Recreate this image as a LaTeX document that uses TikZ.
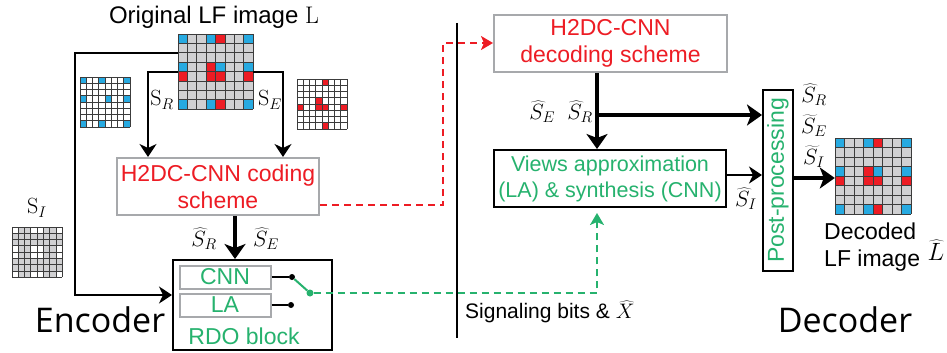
\RequirePackage{fix-cm}
\documentclass[tikz,border=0pt]{standalone}
\usepackage[no-math]{fontspec}
\setmainfont{Liberation Sans}
\newfontfamily\encfont{Open Sans}
\usetikzlibrary{arrows.meta,calc}
\definecolor{lfred}{RGB}{237,28,36}
\definecolor{lfblue}{RGB}{39,170,225}
\definecolor{lfgreen}{RGB}{38,178,110}
\definecolor{lfgray}{RGB}{208,208,210}
\definecolor{boxgray}{RGB}{167,169,172}
\definecolor{gridcol}{RGB}{60,60,60}
\newcommand\lfgrid[6]{%
  \begin{scope}[shift={(#1,#2)}]
    \fill[#4] (0,0) rectangle (8*#3,8*#3);
    \foreach \gr/\gc in {0/0,0/3,0/7,3/0,3/4,3/7,7/0,7/3,7/7}
      \fill[#5] (\gc*#3,\gr*#3) rectangle ++(#3,#3);
    \foreach \gr/\gc in {0/4,3/3,4/0,4/3,4/4,4/7,7/4}
      \fill[#6] (\gc*#3,\gr*#3) rectangle ++(#3,#3);
    \foreach \gi in {0,...,8}{
      \draw[gridcol,line width=0.9pt] (\gi*#3,0) -- (\gi*#3,8*#3);
      \draw[gridcol,line width=0.9pt] (0,\gi*#3) -- (8*#3,\gi*#3);}
  \end{scope}}
\begin{document}
\begin{tikzpicture}[x=1pt,y=-1pt,
  txt/.style={font=\fontsize{23}{27}\selectfont, inner sep=0pt, align=center},
  mth/.style={font=\fontsize{22}{26}\selectfont, inner sep=0pt},
  gbox/.style={draw=boxgray, line width=2pt, fill=white, inner sep=0pt, align=center},
  bbox/.style={draw=black, line width=2pt, fill=white, inner sep=0pt, align=center},
  anchorbox/.style={inner sep=0pt, draw=none},
  conn/.style={line width=2pt, -{Stealth[length=13pt,width=17pt,inset=4pt]}},
  medconn/.style={line width=2.5pt, -{Stealth[length=13pt,width=17pt,inset=4pt]}},
  thickconn/.style={line width=4.5pt, -{Stealth[length=15pt,width=21pt,inset=4pt]}},
  reddash/.style={lfred, line width=2pt, dash pattern=on 7pt off 5pt, -{Stealth[length=12pt,width=14pt,inset=3pt]}},
  greendash/.style={lfgreen, line width=2pt, dash pattern=on 7pt off 5pt, -{Stealth[length=12pt,width=14pt,inset=3pt]}},
  dot/.style={circle, fill=black, inner sep=0pt, minimum size=6pt},
  gdot/.style={circle, fill=lfgreen, inner sep=0pt, minimum size=7pt}]
\useasboundingbox (0,0) rectangle (947,353);

% grids
\lfgrid{178}{34}{9.4}{lfgray}{lfblue}{lfred}
\node[anchorbox, minimum width=75pt, minimum height=75pt] (L) at (215.6,71.6) {};
\lfgrid{80}{77}{6.25}{white}{lfblue}{white}
\node[anchorbox, minimum width=50pt, minimum height=50pt] (SR) at (105,102) {};
\lfgrid{297}{79}{6.25}{white}{white}{lfred}
\node[anchorbox, minimum width=50pt, minimum height=50pt] (SE) at (322,104) {};
\lfgrid{12}{227}{6.3}{lfgray}{white}{white}
\node[anchorbox, minimum width=50pt, minimum height=50pt] (SI) at (37,252) {};
\lfgrid{835}{138}{9.5}{lfgray}{lfblue}{lfred}
\node[anchorbox, minimum width=76pt, minimum height=76pt] (D) at (873,176) {};

% title
\node[txt, font=\fontsize{24}{28}\selectfont] (title) at (214,17) {Original LF image $\mathrm{L}$};

% labels near original
\node[mth] (lsr) at (162,100) {$\mathrm{S}_R$};
\node[mth] (lse) at (270,100) {$\mathrm{S}_E$};
\node[mth] (lsi) at (37,208) {$\mathrm{S}_I$};

% boxes
\node[gbox, minimum width=202pt, minimum height=57pt, text=lfred, font=\fontsize{23}{27}\selectfont] (coding) at (218,186.5) {H2DC-CNN coding\\scheme};
\node[bbox, minimum width=159pt, minimum height=90pt] (rdo) at (252.5,305) {};
\node[gbox, minimum width=91pt, minimum height=23pt, text=lfgreen, font=\fontsize{23}{27}\selectfont] (cnn) at (225,277) {CNN};
\node[gbox, minimum width=91pt, minimum height=23pt, text=lfgreen, font=\fontsize{23}{27}\selectfont] (la) at (225,305) {LA};
\node[txt, text=lfgreen] (rdotxt) at (244,336) {RDO block};
\node[gbox, minimum width=233pt, minimum height=57pt, text=lfred, font=\fontsize{23}{27}\selectfont] (decoding) at (610.5,43.5) {H2DC-CNN\\decoding scheme};
\node[bbox, minimum width=232pt, minimum height=57pt, text=lfgreen, font=\fontsize{21.5}{26}\selectfont] (views) at (610,178.5) {Views approximation\\(LA) \& synthesis (CNN)};
\node[bbox, minimum width=30pt, minimum height=181pt, text=lfgreen, font=\fontsize{23}{27}\selectfont] (post) at (778,180.5) {\rotatebox{90}{Post-processing}};

% big labels
\node[anchor=base, inner sep=0pt, font=\encfont\fontsize{34}{40}\selectfont] (enc) at (100,332) {Encoder};
\node[anchor=base, inner sep=0pt, font=\encfont\fontsize{34}{40}\selectfont] (dec) at (845,332) {Decoder};
\node[txt, align=left, anchor=west] (dectxt) at (824,247) {Decoded\\LF image};
\node[font=\fontsize{25}{30}\selectfont, inner sep=0pt] (lhat) at (936,250) {$\widehat{L}$};
\node[font=\fontsize{21}{25}\selectfont, inner sep=0pt, anchor=west] (sig) at (465,312) {Signaling bits \& $\widehat{X}$};

% math labels
\node[mth] (hsr1) at (204,239) {$\widehat{S}_R$};
\node[mth] (hse1) at (266,239) {$\widehat{S}_E$};
\node[mth] (hsd) at (561,112) {$\widehat{S}_E\;\;\widehat{S}_R$};
\node[mth] (hsi) at (746,199) {$\widehat{S}_I$};
\node[mth, align=center] (rlab) at (814,126) {$\widehat{S}_R$\\[5pt]$\widetilde{S}_E$\\[5pt]$\widetilde{S}_I$};

% coordinates
\coordinate (p1) at (75,53);
\coordinate (p2) at (75,295);
\coordinate (p3) at (148,72);
\coordinate (p4) at (283,72);
\coordinate (p5) at (235,0);
\coordinate (p6) at (443,205);
\coordinate (p7) at (443,43);
\coordinate (p8) at (597,293);
\coordinate (p9) at (597,115);
\coordinate (p10) at (726,175);
\coordinate (p11) at (793,178);
\coordinate (v1) at (457,23);
\coordinate (v2) at (457,338);

% connectors encoder
\draw[conn] (L.west|-p1) -- (p1) -- (p2) -- (rdo.west|-p2);
\draw[conn] (L.west|-p3) -- (p3) -- (coding.north-|p3);
\draw[conn] (L.east|-p4) -- (p4) -- (coding.north-|p4);
\draw[thickconn] (coding.south-|p5) -- (rdo.north-|p5);

% switch
\node[dot] (d1) at (292,277) {};
\node[dot] (d2) at (291,305) {};
\node[gdot] (sw) at (310,293) {};
\draw[line width=1.5pt] (cnn.east|-d1) -- (d1);
\draw[line width=1.5pt] (la.east|-d2) -- (d2);
\draw[lfgreen, line width=2pt] (d1) -- (sw);

% divider
\draw[line width=1.6pt] (v1) -- (v2);

% dashed
\draw[reddash] (coding.east|-p6) -- (p6) -- (p7) -- (decoding.west|-p7);
\draw[greendash, shorten >=5pt] (sw) -- (p8) -- (views.south-|p8);

% decoder connectors
\draw[thickconn, line width=3.5pt] (decoding.south-|p9) -- (views.north-|p9);
\draw[thickconn, line width=3.5pt] (p9) -- (post.west|-p9);
\draw[medconn] (views.east|-p10) -- (post.west|-p10);
\draw[thickconn] (post.east|-p11) -- (D.west|-p11);
\end{tikzpicture}
\end{document}
